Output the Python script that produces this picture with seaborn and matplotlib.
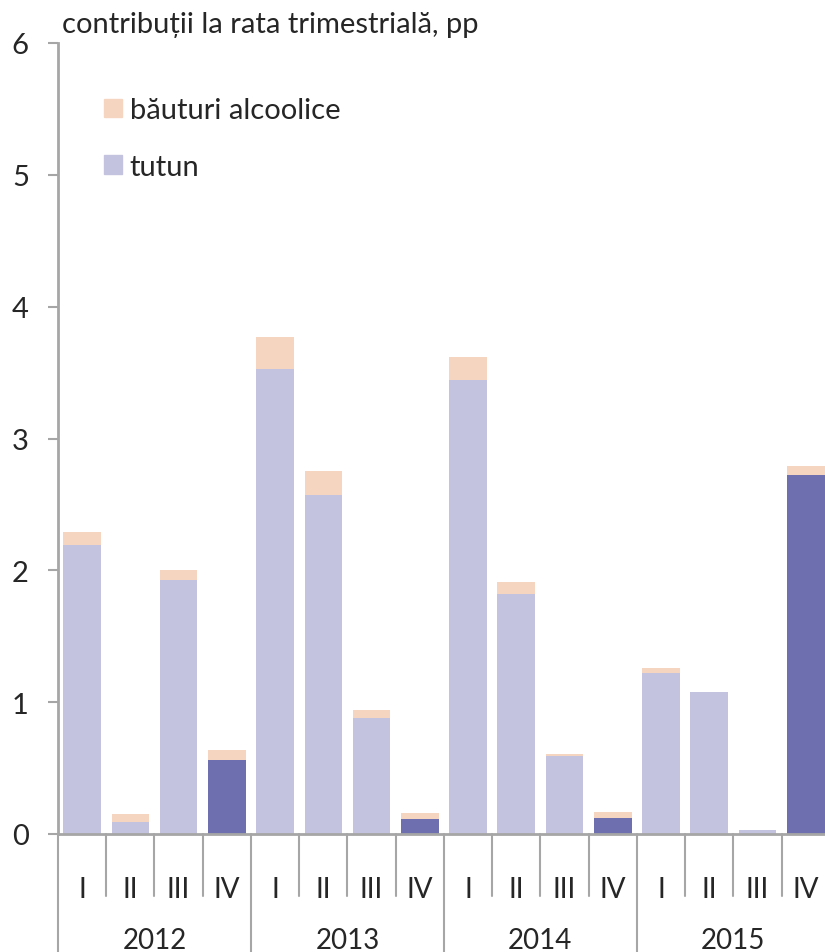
import pandas as pd
import seaborn as sns
import matplotlib
matplotlib.use("Agg")
from matplotlib import pyplot as plt
from matplotlib.patches import Patch

# data
years = ["2012", "2013", "2014", "2015"]
quarters = ["I", "II", "III", "IV"]
tutun = [2.19, 0.09, 1.93, 0.56,
         3.53, 2.57, 0.88, 0.11,
         3.44, 1.82, 0.59, 0.12,
         1.22, 1.08, 0.03, 2.72]
alcool = [0.10, 0.06, 0.07, 0.08,
          0.24, 0.18, 0.06, 0.05,
          0.18, 0.09, 0.02, 0.05,
          0.04, 0.00, 0.00, 0.07]

c_tutun = "#C3C3DF"
c_tutun_q4 = "#6D6FAE"
c_alcool = "#F5D5C0"
c_axis = "#A6A6A6"

rows = []
for i, v in enumerate(tutun):
    rows.append({"pos": i, "tutun": v, "total": v + alcool[i],
                 "q4": "da" if i % 4 == 3 else "nu"})
df = pd.DataFrame(rows)

sns.set_style("white")
plt.rcParams["font.family"] = ["Lato", "DejaVu Sans"]

fig = plt.figure(figsize=(8.25, 9.53), dpi=100)
ax = fig.add_axes([58 / 825, 118 / 953, 1 - 58 / 825, 791 / 953])

sns.barplot(data=df, x="pos", y="total", color=c_alcool, width=0.78,
            saturation=1, linewidth=0, ax=ax)
sns.barplot(data=df, x="pos", y="tutun", hue="q4", palette={"da": c_tutun_q4, "nu": c_tutun},
            dodge=False, width=0.78, saturation=1, linewidth=0, legend=False, ax=ax)

ax.set_xlim(-0.5, 15.4)
ax.set_ylim(0, 6)
ax.set_xlabel("")
ax.set_ylabel("")
sns.despine(ax=ax)
for s in ["left", "bottom"]:
    ax.spines[s].set_color(c_axis)
    ax.spines[s].set_linewidth(2)
ax.set_yticks(range(7))
ax.tick_params(axis="y", length=7, width=1.5, color=c_axis, labelsize=21, pad=14, left=True)

# quarter labels as tick labels, year labels below
ax.set_xticks(range(16))
ax.set_xticklabels(quarters * 4)
ax.tick_params(axis="x", length=0, labelsize=20, pad=30)

trans = ax.get_xaxis_transform()
for k in range(17):
    xb = k - 0.5
    ybot = -0.15 if k % 4 == 0 else -0.079
    ax.plot([xb, xb], [0, ybot], color=c_axis, lw=1.5, transform=trans, clip_on=False)
for j, yr in enumerate(years):
    ax.text(j * 4 + 1.5, -0.134, yr, transform=trans, ha="center", va="center", fontsize=20)

fig.text(62 / 825, 1 - 25 / 953, "contribuții la rata trimestrială, pp", ha="left", va="center", fontsize=21)

handles = [Patch(color=c_alcool, label="băuturi alcoolice"),
           Patch(color=c_tutun, label="tutun")]
ax.legend(handles=handles, loc="upper left", bbox_to_anchor=(78 / 825, 1 - 72 / 953),
          bbox_transform=fig.transFigure, frameon=False, fontsize=21,
          handlelength=0.62, handleheight=0.62, handletextpad=0.25, labelspacing=1.05)

plt.savefig("out.png", dpi=100)
plt.close()
